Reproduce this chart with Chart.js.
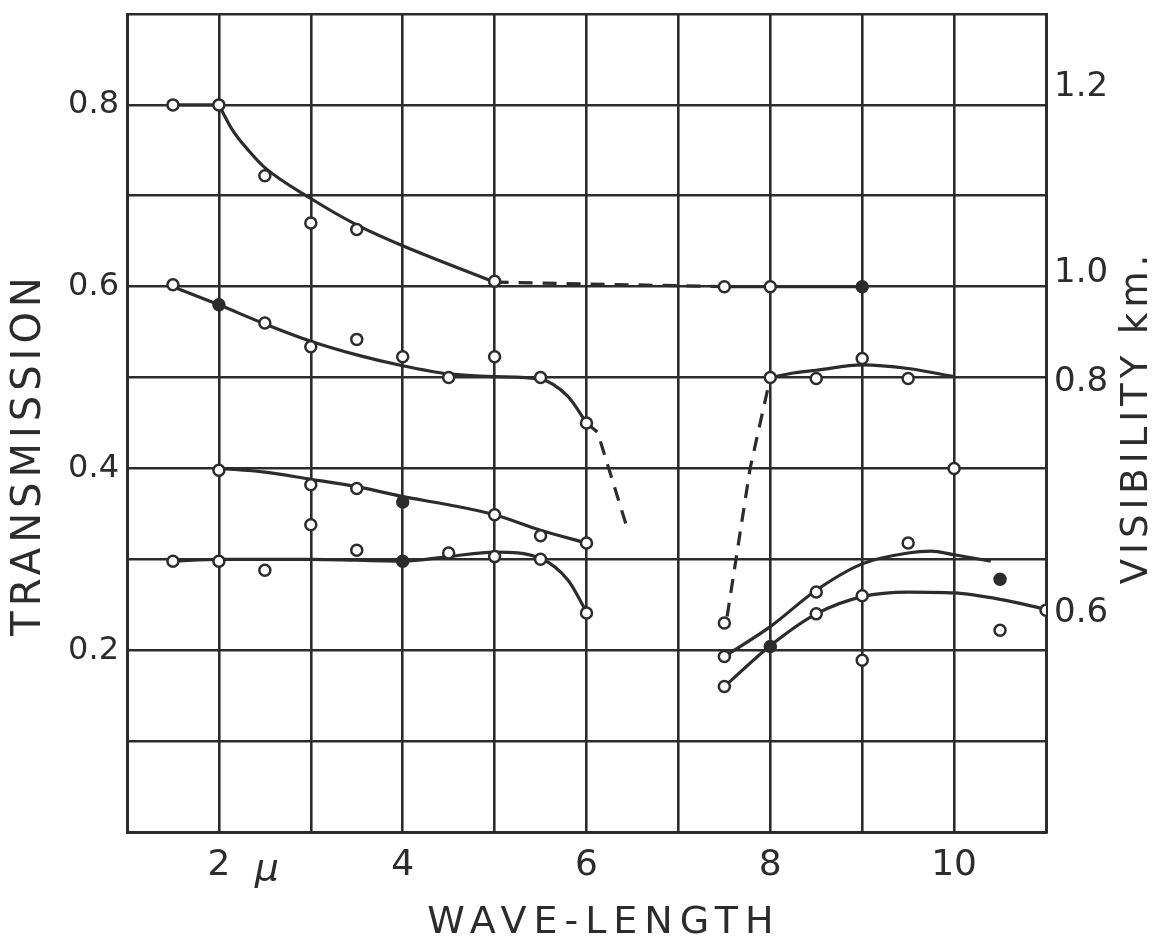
<!DOCTYPE html>
<html>
<head>
<meta charset="utf-8">
<script src="https://cdn.jsdelivr.net/npm/chart.js@4.4.1/dist/chart.umd.min.js"></script>
<style>
  html, body { margin: 0; padding: 0; background: #fff; }
  #wrap { width: 1161px; height: 947px; }
</style>
</head>
<body>
<div id="wrap"><canvas id="chart"></canvas></div>
<script>
// tick labels
const xTickLabels = { 2: '2', 4: '4', 6: '6', 8: '8', 10: '10' };
const yTickLabels = { 2: '0.2', 4: '0.4', 6: '0.6', 8: '0.8' };
// visibility scale on the right (position in transmission units, label in km)
const visTickPos = [0.241, 0.495, 0.615, 0.82];
const visTickLabels = ['0.6', '0.8', '1.0', '1.2'];

// observed points, open circles
const pts1 = [[1.5, 0.8], [2, 0.8], [2.5, 0.722], [3, 0.67], [3.5, 0.663], [5, 0.606], [7.5, 0.6], [8, 0.6]];
const pts2 = [[1.5, 0.602], [2.5, 0.56], [3, 0.534], [3.5, 0.542], [4, 0.523], [4.5, 0.5], [5, 0.523],
              [5.5, 0.5], [6, 0.45], [8, 0.5], [8.5, 0.499], [9, 0.521], [9.5, 0.499], [10, 0.4]];
const pts3 = [[2, 0.398], [3, 0.382], [3.5, 0.378], [5, 0.349], [5.5, 0.326], [6, 0.318]];
const pts4 = [[1.5, 0.298], [2, 0.298], [2.5, 0.288], [3, 0.338], [3.5, 0.31], [4.5, 0.307], [5, 0.303],
              [5.5, 0.3], [6, 0.241]];
const ptsRight = [[7.5, 0.23], [7.5, 0.193], [7.5, 0.16], [8.5, 0.264], [8.5, 0.24], [9, 0.26], [9, 0.189],
                  [9.5, 0.318], [10.5, 0.222], [11, 0.244]];
// observed points, filled
const ptsFilled = [[2, 0.58], [4, 0.363], [4, 0.298], [9, 0.6], [8, 0.204], [10.5, 0.278]];

// hand drawn curves
const fit1Flat = [[1.5, 0.8], [2, 0.8]];
const fit1 = [[2, 0.8], [2.15, 0.772], [2.33, 0.749], [2.5, 0.731], [3, 0.697], [3.5, 0.668], [4, 0.645], [5, 0.605]];
const fit1Right = [[7.5, 0.6], [9, 0.6]];
const fit2 = [[1.5, 0.6], [2, 0.58], [2.5, 0.559], [3, 0.54], [3.5, 0.525], [4, 0.513], [4.5, 0.504],
              [5, 0.501], [5.5, 0.498], [5.8, 0.479], [6, 0.45]];
const fit2Right = [[8, 0.5], [8.25, 0.505], [8.5, 0.508], [9, 0.514], [9.5, 0.51], [10, 0.501]];
const fit3 = [[2, 0.4], [2.5, 0.396], [3, 0.388], [3.5, 0.38], [4, 0.369], [4.5, 0.36], [5, 0.349],
              [5.5, 0.332], [6, 0.318]];
const fit4 = [[1.5, 0.298], [2, 0.3], [3, 0.3], [4, 0.298], [4.5, 0.303], [5, 0.308], [5.5, 0.301],
              [5.8, 0.277], [6, 0.242]];
const fitA = [[7.5, 0.193], [8, 0.226], [8.5, 0.266], [9, 0.295], [9.5, 0.307], [9.75, 0.309], [10, 0.305], [10.4, 0.298]];
const fitB = [[7.5, 0.16], [8, 0.205], [8.5, 0.24], [9, 0.259], [9.5, 0.264], [10, 0.263], [10.5, 0.256], [11, 0.245]];
// dashed connections
const dash1 = [[5, 0.605], [7.5, 0.6]];
const dash2a = [[6, 0.45], [6.12, 0.44], [6.45, 0.332]];
const dash2b = [[7.53, 0.237], [7.78, 0.4], [8, 0.5]];

const INK = '#2c2c2c';
const FONT = '"DejaVu Sans", sans-serif';

const xy = arr => arr.map(p => ({ x: p[0], y: p[1] }));

function curve(arr, smooth) {
    return {
        data: xy(arr), showLine: true, borderColor: INK, borderWidth: 3.2, pointRadius: 0,
        tension: 0, cubicInterpolationMode: smooth ? 'monotone' : 'default', order: 2
    };
}
function dashed(arr) {
    return { data: xy(arr), showLine: true, borderColor: INK, borderWidth: 3.2, borderDash: [14, 10],
             pointRadius: 0, tension: 0, order: 2 };
}
function marks(arr, filled) {
    return { data: xy(arr), showLine: false, pointRadius: 5.5, pointBorderWidth: 2.5,
             pointBorderColor: INK, pointBackgroundColor: filled ? INK : '#fff', order: 1 };
}

// vertical scales: no extra room for the end labels
const noPad = s => { s.paddingTop = 0; s.paddingBottom = 0; };

// titles drawn as rotated text
const titlePlugin = {
    id: 'titles',
    afterDraw(chart) {
        const ctx = chart.ctx;
        const xs = chart.scales.x;
        ctx.save();
        ctx.fillStyle = INK;
        ctx.textAlign = 'center';
        ctx.textBaseline = 'middle';

        ctx.font = '38px ' + FONT;
        ctx.letterSpacing = '7px';
        ctx.fillText('WAVE-LENGTH', 604, 923);

        ctx.save();
        ctx.translate(30, 454);
        ctx.rotate(-Math.PI / 2);
        ctx.font = '40px ' + FONT;
        ctx.letterSpacing = '5px';
        ctx.fillText('TRANSMISSION', 0, 0);
        ctx.restore();

        ctx.save();
        ctx.translate(1137, 417);
        ctx.rotate(-Math.PI / 2);
        ctx.font = '37px ' + FONT;
        ctx.letterSpacing = '5px';
        ctx.fillText('VISIBILITY km.', 0, 0);
        ctx.restore();

        ctx.letterSpacing = '0px';
        ctx.font = 'italic 38px ' + FONT;
        ctx.fillText('\u03bc', xs.getPixelForValue(2) + 48, 870);
        ctx.restore();
    }
};

new Chart(document.getElementById('chart'), {
    type: 'scatter',
    data: {
        datasets: [
            curve(fit1Flat, false), curve(fit1, true), curve(fit1Right, false),
            curve(fit2, true), curve(fit2Right, true), curve(fit3, true), curve(fit4, true),
            curve(fitA, true), curve(fitB, true),
            dashed(dash1), dashed(dash2a), dashed(dash2b),
            marks(pts1, false), marks(pts2, false), marks(pts3, false), marks(pts4, false),
            marks(ptsRight, false), marks(ptsFilled, true)
        ]
    },
    options: {
        responsive: true,
        maintainAspectRatio: false,
        animation: false,
        layout: { padding: { top: 14, left: 0, right: 0, bottom: 0 } },
        plugins: { legend: { display: false }, tooltip: { enabled: false } },
        scales: {
            x: {
                type: 'linear', min: 1, max: 11,
                afterFit: s => { s.height = 115; },
                ticks: {
                    stepSize: 1, padding: 12, color: INK, font: { family: FONT, size: 36 },
                    maxRotation: 0, autoSkip: false,
                    callback: v => xTickLabels[v] || ''
                },
                grid: { color: INK, lineWidth: 2.6, drawTicks: false },
                border: { color: INK, width: 3 }
            },
            y: {
                type: 'linear', position: 'left', min: 0, max: 0.9,
                afterFit: s => { s.width = 127; noPad(s); },
                ticks: {
                    stepSize: 0.1, padding: 8, color: INK, font: { family: FONT, size: 32 },
                    autoSkip: false,
                    callback: v => yTickLabels[Math.round(v * 10)] || ''
                },
                grid: { color: INK, lineWidth: 2.6, drawTicks: false },
                border: { color: INK, width: 3 }
            },
            y2: {
                type: 'linear', position: 'right', min: 0, max: 0.9,
                afterFit: s => { s.width = 115; noPad(s); },
                afterBuildTicks: s => { s.ticks = visTickPos.map(v => ({ value: v })); },
                ticks: {
                    padding: 8, color: INK, font: { family: FONT, size: 34 }, autoSkip: false,
                    callback: (v, i) => visTickLabels[i]
                },
                grid: { display: false, drawTicks: false },
                border: { color: INK, width: 3 }
            }
        }
    },
    plugins: [titlePlugin]
});
</script>
</body>
</html>
